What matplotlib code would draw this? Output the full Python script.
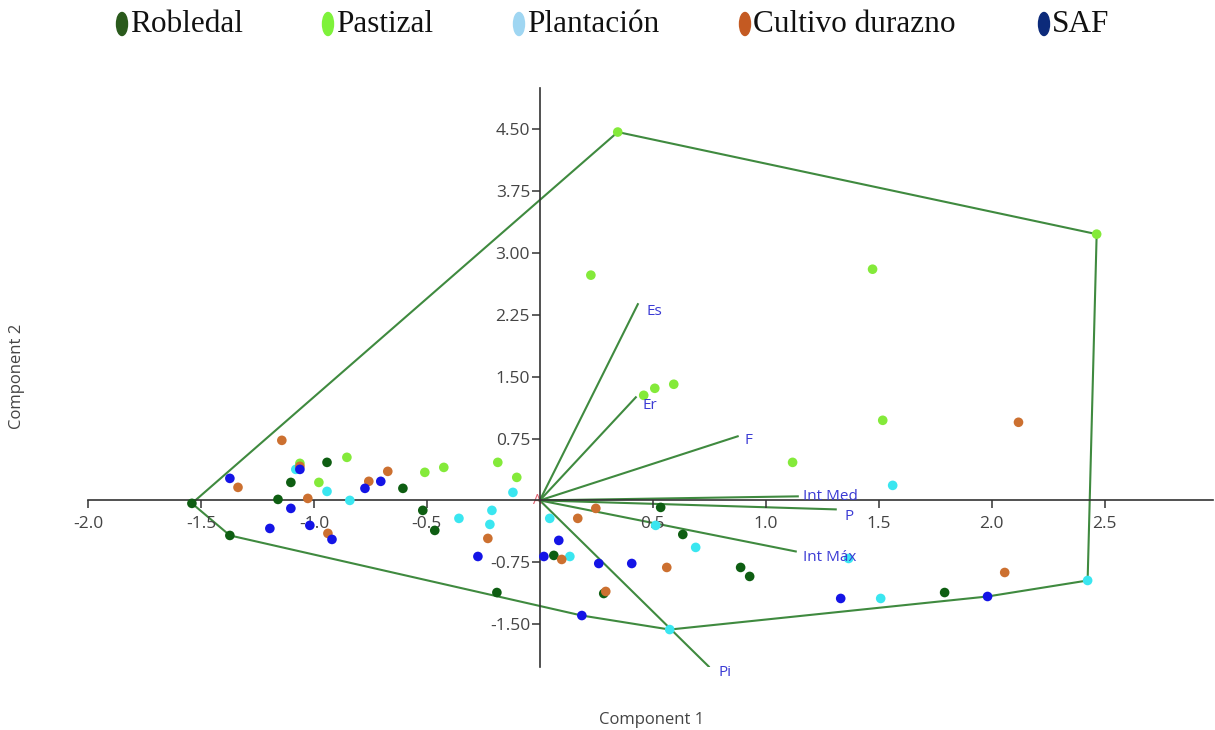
import matplotlib
matplotlib.use('Agg')
import matplotlib.pyplot as plt
from matplotlib.patches import Ellipse
import numpy as np

plt.rcParams['axes.unicode_minus'] = False

# Puntuaciones (Component 1, Component 2)
robledal_x = [-1.540, -1.372, -1.159, -1.102, -0.942, -0.606, -0.518, -0.465,
              -0.190, 0.062, 0.283, 0.535, 0.633, 0.889, 0.929, 1.792]
robledal_y = [-0.036, -0.425, 0.012, 0.218, 0.461, 0.146, -0.121, -0.364,
              -1.117, -0.667, -1.129, -0.085, -0.413, -0.813, -0.922, -1.117]

pastizal_x = [0.345, 2.465, 0.226, 1.473, 0.460, 0.509, 0.593, 1.518,
              1.119, -0.186, -0.102, -0.509, -0.425, -0.854, -0.978, -1.062]
pastizal_y = [4.466, 3.228, 2.731, 2.803, 1.274, 1.359, 1.408, 0.971,
              0.461, 0.461, 0.279, 0.340, 0.400, 0.522, 0.218, 0.449]

plantacion_x = [-1.080, -0.942, -0.841, -0.119, -0.212, -0.358, -0.221, 0.044,
                0.133, 0.513, 0.690, 0.575, 1.562, 1.367, 1.509, 2.425]
plantacion_y = [0.376, 0.109, 0.000, 0.097, -0.121, -0.218, -0.291, -0.218,
                -0.680, -0.303, -0.570, -1.566, 0.182, -0.704, -1.189, -0.971]

durazno_x = [-1.142, -1.336, -1.027, -0.938, -0.757, -0.673, -1.062, 0.248,
             0.168, -0.230, 0.097, 0.562, 0.292, 2.119, 2.058]
durazno_y = [0.728, 0.158, 0.024, -0.400, 0.231, 0.352, 0.413, -0.097,
             -0.218, -0.461, -0.716, -0.813, -1.104, 0.947, -0.874]

saf_x = [-1.372, -1.102, -1.195, -1.062, -1.018, -0.920, -0.774, -0.704,
         0.084, -0.274, 0.018, 0.261, 0.407, 0.186, 1.332, 1.982]
saf_y = [0.267, -0.097, -0.340, 0.376, -0.303, -0.473, 0.146, 0.231,
         -0.485, -0.680, -0.680, -0.765, -0.765, -1.396, -1.189, -1.165]

grupos = ['Robledal', 'Pastizal', 'Plantación', 'Cultivo durazno', 'SAF']
xs = [robledal_x, pastizal_x, plantacion_x, durazno_x, saf_x]
ys = [robledal_y, pastizal_y, plantacion_y, durazno_y, saf_y]
colores = ['#0e5e12', '#84ea3a', '#3ae6f0', '#cc7030', '#1414e6']
colores_leyenda = ['#2a5a1c', '#7ef23a', '#9fd6f2', '#c45a22', '#0c2a7a']

# Vectores de las variables (cargas)
variables = ['Es', 'Er', 'F', 'Int Med', 'P', 'Int Máx', 'Pi']
var_x = [0.434, 0.425, 0.876, 1.142, 1.310, 1.133, 0.748]
var_y = [2.379, 1.250, 0.777, 0.049, -0.109, -0.619, -2.015]
# desplazamiento de las etiquetas en puntos
off = [(6, -5), (5, -6), (5, -3), (4, 0), (6, -5), (5, -4), (7, -4)]


def convex_hull(pts):
    pts = sorted(set(pts))

    def cross(o, a, b):
        return (a[0] - o[0]) * (b[1] - o[1]) - (a[1] - o[1]) * (b[0] - o[0])

    lower = []
    for p in pts:
        while len(lower) >= 2 and cross(lower[-2], lower[-1], p) <= 0:
            lower.pop()
        lower.append(p)
    upper = []
    for p in reversed(pts):
        while len(upper) >= 2 and cross(upper[-2], upper[-1], p) <= 0:
            upper.pop()
        upper.append(p)
    return lower[:-1] + upper[:-1]


fig = plt.figure(figsize=(12.15, 7.3), dpi=100)
ax = fig.add_axes([88 / 1215, 63 / 730, 1125 / 1215, 579 / 730])
ax.set_xlim(-2.0, 2.98)
ax.set_ylim(-2.02, 5.0)

# casco convexo de todos los puntos
todos = [(x, y) for gx, gy in zip(xs, ys) for x, y in zip(gx, gy)]
hull = convex_hull(todos)
hull.append(hull[0])
hx, hy = zip(*hull)
ax.plot(hx, hy, color='#3f8a3f', lw=1.5, zorder=1)

# vectores
for nombre, vx, vy, o in zip(variables, var_x, var_y, off):
    ax.plot([0, vx], [0, vy], color='#3f8a3f', lw=1.5, zorder=1)
    ax.annotate(nombre, (vx, vy), xytext=o, textcoords='offset points',
                ha='left', va='center', color='#3b3bd4', fontsize=11,
                family='Open Sans', zorder=4)

for gx, gy, c in zip(xs, ys, colores):
    ax.scatter(gx, gy, s=48, color=c, edgecolors='none', zorder=3)

ax.text(-0.01, 0.0, 'A', color='#e06070', fontsize=10, ha='center',
        va='center', family='Open Sans', zorder=2)

# ejes centrados
ax.spines['left'].set_position(('data', 0))
ax.spines['bottom'].set_position(('data', 0))
ax.spines['top'].set_visible(False)
ax.spines['right'].set_visible(False)
for s in ['left', 'bottom']:
    ax.spines[s].set_color('#333333')
    ax.spines[s].set_linewidth(1.2)

xt = [-2.0, -1.5, -1.0, -0.5, 0.5, 1.0, 1.5, 2.0, 2.5]
yt = [-1.5, -0.75, 0.75, 1.5, 2.25, 3.0, 3.75, 4.5]
ax.set_xticks(xt)
ax.set_xticklabels([f'{v:.1f}' for v in xt])
ax.set_yticks(yt)
ax.set_yticklabels([f'{v:.2f}' for v in yt])
ax.tick_params(direction='out', length=5.5, width=1.1, color='#333333',
               labelsize=12.5, labelcolor='#444444')
ax.tick_params(axis='x', pad=6)
ax.tick_params(axis='y', pad=1.5)
for lab in ax.get_xticklabels() + ax.get_yticklabels():
    lab.set_family('Open Sans')

fig.text(652 / 1215, 1 - 720 / 730, 'Component 1', ha='center', va='center',
         fontsize=12, color='#444444', family='Open Sans')
fig.text(17 / 1215, 1 - 376 / 730, 'Component 2', ha='center', va='center',
         rotation=90, fontsize=12, color='#444444', family='Open Sans')

# leyenda superior
lax = fig.add_axes([0, 0, 1, 1])
lax.set_xlim(0, 1215)
lax.set_ylim(730, 0)
lax.set_axis_off()
pos_marca = [122, 328, 519, 745, 1044]
for g, c, px in zip(grupos, colores_leyenda, pos_marca):
    lax.add_patch(Ellipse((px, 24), 11, 23, color=c))
    lax.text(px + 8, 25, g, ha='left', va='center', fontsize=22.5,
             family='Liberation Serif', color='#111111')

fig.savefig('out.png', dpi=100)
